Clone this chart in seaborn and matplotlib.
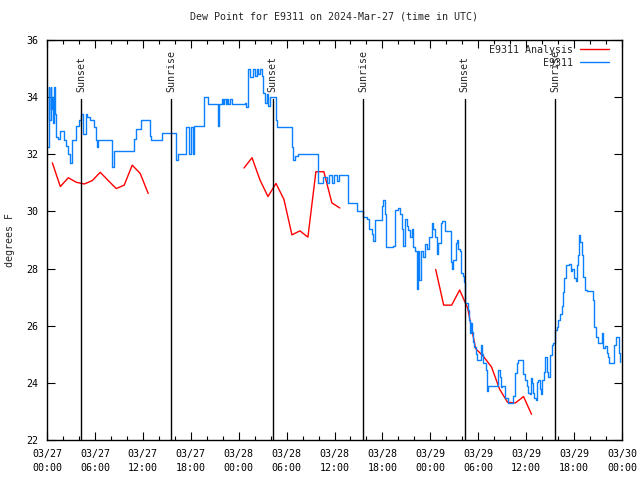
import numpy as np
import pandas as pd
import matplotlib
matplotlib.use("Agg")
import matplotlib.pyplot as plt
import matplotlib.dates as mdates
from matplotlib.lines import Line2D
import seaborn as sns

# Observed dew point (E9311), hours after 2024-03-27 00:00 UTC
obs_hours = [0.13, 0.19, 0.31, 0.44, 0.50, 0.63, 0.75, 0.88, 1.00, 1.09, 1.38, 1.63, 1.97, 2.13, 2.38,
             2.63, 2.88, 3.09, 3.19, 3.59, 4.01, 4.26, 4.55, 4.85, 5.05, 5.38, 5.89, 6.10, 6.22, 6.39,
             7.98, 8.10, 8.39, 10.52, 10.89, 11.11, 11.73, 12.56, 12.90, 12.99, 14.24, 14.34, 15.78,
             16.15, 16.44, 17.16, 17.41, 17.69, 17.82, 17.99, 18.24, 18.45, 19.50, 19.66, 20.20, 21.25,
             21.38, 21.50, 21.88, 22.04, 22.20, 22.38, 22.54, 22.70, 22.88, 23.13, 24.79, 24.92, 25.13,
             25.42, 25.83, 26.05, 26.30, 26.46, 26.67, 26.88, 27.01, 27.30, 27.51, 27.71, 27.92, 28.55,
             28.68, 28.76, 30.43, 30.64, 30.84, 31.05, 31.47, 33.77, 33.90, 34.40, 34.60, 35.02, 35.31,
             35.65, 35.94, 36.28, 36.56, 37.32, 37.60, 37.73, 38.78, 38.86, 39.41, 39.53, 40.11, 40.36,
             40.66, 40.86, 41.07, 41.70, 41.91, 42.11, 42.32, 42.45, 43.36, 43.58, 43.99, 44.20, 44.42,
             44.62, 44.83, 45.04, 45.24, 45.46, 45.67, 45.87, 46.08, 46.29, 46.42, 46.58, 46.80, 47.05,
             47.33, 47.62, 47.87, 48.17, 48.37, 48.59, 48.80, 49.00, 49.30, 49.46, 49.84, 50.38, 50.55,
             50.71, 50.88, 51.22, 51.38, 51.50, 51.72, 51.84, 52.13, 52.25, 52.38, 52.55, 52.75, 52.88,
             52.97, 53.09, 53.26, 53.38, 53.51, 53.68, 53.81, 54.01, 54.31, 54.43, 54.56, 54.72, 54.97,
             55.14, 55.26, 56.31, 56.44, 56.51, 56.72, 56.81, 56.94, 57.14, 57.35, 57.76, 58.19, 58.39,
             58.60, 58.82, 59.02, 59.35, 59.57, 59.86, 60.07, 60.19, 60.48, 60.61, 60.77, 60.89, 61.02,
             61.19, 61.32, 61.52, 61.73, 61.86, 62.02, 62.23, 62.36, 62.57, 62.70, 62.86, 63.02, 63.20,
             63.40, 63.61, 63.82, 64.02, 64.24, 64.45, 64.57, 64.78, 64.95, 65.40, 65.58, 65.78, 66.03,
             66.21, 66.33, 66.46, 66.62, 66.75, 66.96, 67.16, 67.37, 67.58, 68.21, 68.41, 68.54, 68.71,
             68.96, 69.25, 69.46, 69.66, 69.87, 70.08, 70.29, 70.41, 70.91, 71.04, 71.25, 71.46, 71.63,
             71.75]
obs_values = [32.25, 34.37, 33.2, 34.37, 33.6, 34.0, 33.1, 34.37, 33.4, 32.6, 32.55, 32.8, 32.8, 32.5, 32.3,
              32.0, 31.7, 31.7, 32.5, 33.0, 33.2, 33.4, 32.7, 33.4, 33.3, 33.2, 32.95, 32.5, 32.25, 32.5,
              32.5, 31.55, 32.1, 32.1, 32.55, 32.9, 33.2, 33.2, 32.65, 32.5, 32.5, 32.75, 32.75,
              31.8, 32.0, 32.0, 32.97, 32.97, 32.0, 32.97, 32.0, 33.0, 33.0, 34.0, 33.75, 33.75,
              33.0, 33.75, 33.93, 33.75, 33.93, 33.75, 33.93, 33.75, 33.93, 33.75, 33.8, 33.65, 35.0,
              34.7, 35.0, 34.75, 35.0, 34.8, 35.0, 34.75, 34.15, 33.8, 34.1, 33.7, 34.0, 34.0,
              33.2, 32.97, 32.97, 32.27, 31.8, 31.94, 32.0, 32.0, 31.0, 31.0, 31.2, 31.0, 31.27,
              31.0, 31.27, 31.05, 31.27, 31.27, 31.27, 30.3, 30.3, 30.0, 30.0, 29.8, 29.75, 29.4,
              29.2, 28.97, 29.7, 29.7, 30.2, 30.4, 29.9, 28.75, 28.8, 30.05, 30.13, 29.9, 29.4,
              28.8, 29.75, 29.5, 29.35, 29.1, 29.4, 28.77, 28.6, 27.3, 28.6, 27.6, 28.6, 28.42,
              28.85, 28.7, 29.1, 29.6, 29.4, 29.1, 28.5, 28.9, 29.6, 29.65, 29.3, 29.3, 28.24,
              28.0, 28.3, 28.9, 29.0, 28.7, 28.6, 27.85, 27.75, 27.54, 26.8, 26.8, 26.55, 26.2,
              25.74, 26.1, 25.79, 25.44, 25.26, 25.0, 24.8, 24.8, 25.33, 25.0, 24.7, 24.7, 24.45,
              23.7, 23.9, 23.9, 24.1, 24.45, 24.2, 23.85, 23.9, 23.9, 23.47, 23.3, 23.3, 23.53,
              24.35, 24.7, 24.8, 24.8, 24.3, 24.1, 23.9, 23.64, 23.6, 24.17, 24.0, 23.64, 23.47,
              23.4, 24.04, 24.1, 23.8, 23.6, 24.1, 24.39, 24.92, 24.39, 24.2, 24.2, 24.98, 25.33,
              25.4, 25.85, 25.97, 26.2, 26.4, 26.7, 27.19, 27.66, 28.12, 28.15, 27.9, 28.0, 27.67,
              27.55, 28.12, 28.47, 29.17, 28.94, 28.47, 27.72, 27.25, 27.2, 27.2, 26.9, 25.97, 25.62,
              25.4, 25.4, 25.76, 25.21, 25.3, 25.04, 24.9, 24.7, 24.7, 25.33, 25.6, 25.6, 25.04,
              24.74]

# Analysis (hourly), three runs
ana_hours_1 = [0.67, 1.67, 2.67, 3.67, 4.67, 5.67, 6.67, 7.67, 8.67, 9.67, 10.67, 11.67, 12.67]
ana_values_1 = [31.7, 30.87, 31.18, 31.02, 30.96, 31.08, 31.37, 31.08, 30.8, 30.92, 31.62, 31.33, 30.63]
ana_hours_2 = [24.67, 25.67, 26.67, 27.67, 28.67, 29.67, 30.67, 31.67, 32.67, 33.67, 34.67, 35.67, 36.67]
ana_values_2 = [31.52, 31.88, 31.1, 30.52, 30.98, 30.42, 29.18, 29.32, 29.1, 31.39, 31.39, 30.3, 30.12]
ana_hours_3 = [48.67, 49.67, 50.67, 51.67, 52.67, 53.67, 54.67, 55.67, 56.67, 57.67, 58.67, 59.67, 60.67]
ana_values_3 = [27.97, 26.72, 26.72, 27.25, 26.62, 25.2, 24.92, 24.55, 23.78, 23.32, 23.3, 23.52, 22.9]

sun_times = ["2024-03-27 04:16", "2024-03-27 15:32", "2024-03-28 04:17",
             "2024-03-28 15:34", "2024-03-29 04:19", "2024-03-29 15:36"]
sun_labels = ["Sunset", "Sunrise", "Sunset", "Sunrise", "Sunset", "Sunrise"]

start = pd.Timestamp("2024-03-27 00:00")
obs = pd.DataFrame({"time": start + pd.to_timedelta(obs_hours, unit="h"), "dewpt": obs_values})
ana = pd.concat([
    pd.DataFrame({"time": start + pd.to_timedelta(h, unit="h"), "dewpt": v, "run": i})
    for i, (h, v) in enumerate([(ana_hours_1, ana_values_1), (ana_hours_2, ana_values_2),
                                (ana_hours_3, ana_values_3)])
])

sns.set_style("ticks")
plt.rcParams["font.family"] = ["DejaVu Sans Mono"]
plt.rcParams["font.size"] = 7.2

fig = plt.figure(figsize=(6.4, 4.8), dpi=100)
ax = fig.add_axes([47 / 640, 40 / 480, 575 / 640, 400 / 480])

red = "#ff0000"
blue = "#0a80ff"

for run, grp in ana.groupby("run"):
    sns.lineplot(data=grp, x="time", y="dewpt", color=red, lw=1, ax=ax, estimator=None, legend=False)
sns.lineplot(data=obs, x="time", y="dewpt", color=blue, lw=1, ax=ax, estimator=None,
             drawstyle="steps-post", legend=False)

for t, lab in zip(sun_times, sun_labels):
    ts = pd.Timestamp(t)
    ax.plot([ts, ts], [22, 33.93], color="black", lw=1)
    ax.text(ts, 34.18, lab, rotation=90, ha="center", va="bottom", fontsize=7.2)

ax.set_xlim(start, start + pd.Timedelta(hours=72))
ax.set_ylim(22, 36)
ax.set_yticks(np.arange(22, 37, 2))
ax.xaxis.set_major_locator(mdates.HourLocator(byhour=[0, 6, 12, 18]))
ax.xaxis.set_minor_locator(mdates.HourLocator(interval=2))
ax.xaxis.set_major_formatter(mdates.DateFormatter("%m/%d\n%H:%M"))
ax.tick_params(which="both", direction="in", top=True, right=True, colors="black", labelsize=7.2)
ax.tick_params(which="major", length=6, width=0.8)
ax.tick_params(which="minor", length=3, width=0.8)
ax.tick_params(axis="x", pad=6.5)
ax.tick_params(axis="y", pad=6)
for lbl in ax.get_xticklabels():
    lbl.set_linespacing(1.5)
for sp in ax.spines.values():
    sp.set_color("black")
    sp.set_linewidth(1)

ax.set_xlabel("")
ax.set_ylabel("degrees F", fontsize=7.2)
ax.yaxis.set_label_coords(-0.056, 0.5)
ax.set_title("Dew Point for E9311 on 2024-Mar-27 (time in UTC)", fontsize=7.2, pad=15)

handles = [Line2D([], [], color=red, lw=1), Line2D([], [], color=blue, lw=1)]
ax.legend(handles, ["E9311 Analysis", "E9311"], loc="upper right", bbox_to_anchor=(0.988, 1.003),
          frameon=False, markerfirst=False, handlelength=2.9, handletextpad=0.7,
          labelspacing=0.3, borderaxespad=0.2, fontsize=7.2)

fig.savefig("out.png", dpi=100)
